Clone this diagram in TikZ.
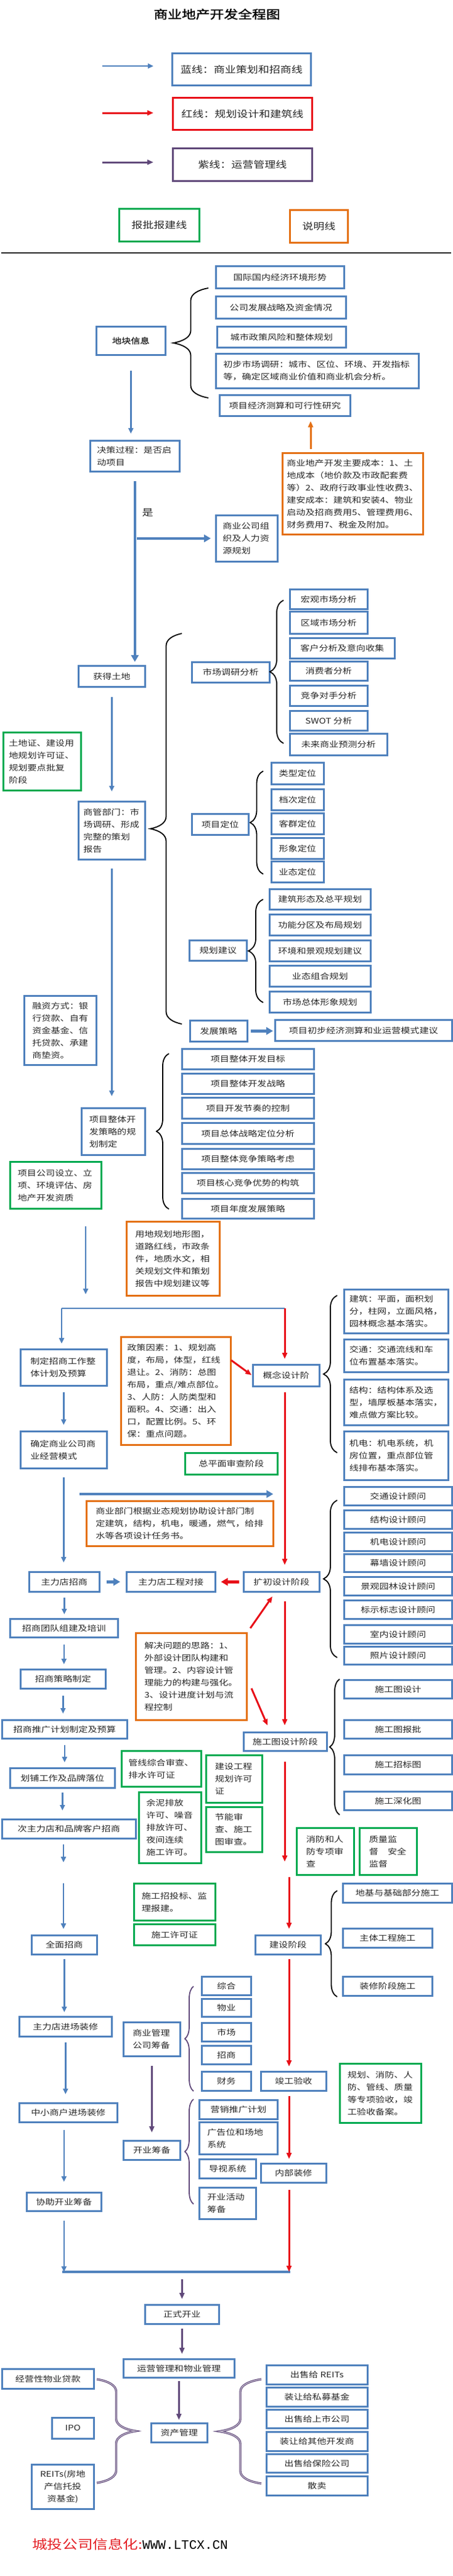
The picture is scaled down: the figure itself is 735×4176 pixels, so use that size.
\documentclass[tikz,border=0pt]{standalone}
\usepackage{fontspec}
\usetikzlibrary{arrows.meta,decorations.pathreplacing}
\newfontfamily\cjk[FakeStretch=1.2]{Noto Sans CJK SC}
\newfontfamily\cjkb[FakeStretch=1.2,FakeBold=1.6]{Noto Sans CJK SC}
\newfontfamily\mono{Liberation Mono}
\newcommand\bxfs{\fontsize{12.6}{20}\selectfont}
\definecolor{bblue}{RGB}{79,129,189}
\definecolor{rred}{RGB}{232,16,24}
\definecolor{ppur}{RGB}{96,73,122}
\definecolor{ggreen}{RGB}{0,170,80}
\definecolor{oorange}{RGB}{228,112,20}
\definecolor{txt}{RGB}{40,40,40}
\definecolor{fred}{RGB}{228,30,36}
\tikzset{bx/.style={draw=#1, line width=2.6pt, anchor=north west, inner sep=0pt, align=center, text=txt, font=\cjk\bxfs}, bx/.default=bblue,
	lg/.style={bx=#1, line width=2.8pt, font=\cjk\fontsize{15}{20}\selectfont}, lg/.default=bblue,
	wh/.style 2 args={minimum width=#1pt, minimum height=#2pt}, tw/.style={align=left, text width=#1pt},
	ba/.style={draw=bblue, line width=2.5pt, -{Triangle[length=9pt,width=8pt]}},
	bt/.style={draw=bblue, line width=4.5pt, -{Triangle[length=11pt,width=12pt]}},
	ra/.style={draw=rred, line width=3pt, -{Triangle[length=10pt,width=8pt]}},
	rt/.style={draw=rred, line width=4.5pt, -{Triangle[length=11pt,width=12pt]}},
	pa/.style={draw=ppur, line width=3pt, -{Triangle[length=10pt,width=8pt]}},
	oa/.style={draw=oorange, line width=3pt, -{Triangle[length=10pt,width=8pt]}},
	bline/.style={draw=bblue, line width=#1}, bline/.default=2.5pt,
	brc/.style={draw=black, line width=1.8pt, decorate, decoration={brace, amplitude=20pt, transform={yscale=#1/20}}},
	pbrc/.style={brc=#1, draw=ppur},
	dbrc/.style={brc=#1, draw=ppur, line width=1.1pt, double=ppur!35, double distance=1.2pt}}

\begin{document}
\begin{tikzpicture}[x=1pt,y=-1pt]
	\path[use as bounding box, fill=white] (0,0) rectangle (735,4176);
	\node[font=\cjkb\fontsize{19}{22}\selectfont] (tt) at (352,23) {商业地产开发全程图};
	\node[lg, wh={225}{52}] (lgb) at (278,85) {蓝线：商业策划和招商线};
	\node[lg=rred, wh={226}{52}] (lgr) at (279,157) {红线：规划设计和建筑线};
	\node[lg=ppur, wh={226}{53}] (lgp) at (279,239) {紫线：运营管理线};
	\node[lg=ggreen, wh={130}{53}] (lgg) at (192,337) {报批报建线};
	\node[lg=oorange, wh={94}{53}] (lgo) at (469,339) {说明线};
	\draw[line width=2.5pt, black!85] (2,410) -- (732,410);

	\node[bx, wh={112}{46}, font=\cjkb\bxfs] (dk) at (155,528) {地块信息};
	\node[bx, wh={208}{36}] (i1) at (349,430) {国际国内经济环境形势};
	\node[bx, wh={211}{36}] (i2) at (349,479) {公司发展战略及资金情况};
	\node[bx, wh={209}{34}] (i3) at (351,528) {城市政策风险和整体规划};
	\node[bx, wh={329}{56}, tw=305] (i4) at (349,572) {初步市场调研：城市、区位、环境、开发指标\\等，确定区域商业价值和商业机会分析。};
	\node[bx, wh={212}{34}] (i5) at (355,639) {项目经济测算和可行性研究};
	\node[bx, wh={145}{50}, tw=123] (jc) at (145,713) {决策过程：是否启\\动项目};
	\node[bx=oorange, wh={228}{132}, tw=214] (cb) at (457,733) {商业地产开发主要成本：1、土\\地成本（地价款及市政配套费\\等）2、政府行政事业性收费3、\\建安成本：建筑和安装4、物业\\启动及招商费用5、管理费用6、\\财务费用7、税金及附加。};
	\node[bx, wh={100}{75}, tw=78] (hr) at (349,834) {商业公司组\\织及人力资\\源规划};
	\node[bx, wh={108}{34}] (hd) at (126,1078) {获得土地};
	\node[bx, wh={126}{33}] (m0) at (310,1072) {市场调研分析};
	\node[bx, wh={126}{32}] (m1) at (469,954) {宏观市场分析};
	\node[bx, wh={126}{36}] (m2) at (469,990) {区域市场分析};
	\node[bx, wh={170}{33}] (m3) at (469,1033) {客户分析及意向收集};
	\node[bx, wh={126}{31}] (m4) at (469,1071) {消费者分析};
	\node[bx, wh={126}{33}] (m5) at (469,1110) {竞争对手分析};
	\node[bx, wh={126}{32}] (m6) at (469,1151) {SWOT 分析};
	\node[bx, wh={158}{35}] (m7) at (469,1188) {未来商业预测分析};

	\node[bx=ggreen, wh={126}{94}, tw=108] (gz) at (4,1186) {土地证、建设用\\地规划许可证、\\规划要点批复\\阶段};
	\node[bx, wh={108}{94}, tw=92] (sg) at (126,1298) {商管部门：市\\场调研、形成\\完整的策划\\报告};
	\node[bx, wh={92}{34}] (p0) at (310,1318) {项目定位};
	\node[bx, wh={85}{35}] (p1) at (439,1235) {类型定位};
	\node[bx, wh={85}{34}] (p2) at (439,1278) {档次定位};
	\node[bx, wh={85}{34}] (p3) at (439,1317) {客群定位};
	\node[bx, wh={85}{34}] (p4) at (439,1357) {形象定位};
	\node[bx, wh={85}{34}] (p5) at (439,1395) {业态定位};
	\node[bx, wh={93}{33}] (g0) at (306,1523) {规划建议};
	\node[bx, wh={164}{33}] (g1) at (436,1440) {建筑形态及总平规划};
	\node[bx, wh={164}{34}] (g2) at (436,1481) {功能分区及布局规划};
	\node[bx, wh={164}{34}] (g3) at (436,1523) {环境和景观规划建议};
	\node[bx, wh={164}{34}] (g4) at (436,1564) {业态组合规划};
	\node[bx, wh={164}{34}] (g5) at (436,1606) {市场总体形象规划};
	\node[bx, wh={93}{34}] (fz) at (307,1653) {发展策略};
	\node[bx, wh={287}{34}] (fc) at (445,1652) {项目初步经济测算和业运营模式建议};
	\node[bx, wh={117}{112}, tw=91] (rz) at (38,1613) {融资方式：银\\行贷款、自有\\资金基金、信\\托贷款、承建\\商垫资。};
	\node[bx, wh={103}{76}, tw=78] (kf) at (131,1795) {项目整体开\\发策略的规\\划制定};
	\node[bx, wh={214}{33}] (k1) at (294,1699) {项目整体开发目标};
	\node[bx, wh={214}{33}] (k2) at (294,1739) {项目整体开发战略};
	\node[bx, wh={214}{34}] (k3) at (294,1778) {项目开发节奏的控制};
	\node[bx, wh={214}{34}] (k4) at (294,1819) {项目总体战略定位分析};
	\node[bx, wh={214}{33}] (k5) at (294,1861) {项目整体竞争策略考虑};
	\node[bx, wh={214}{33}] (k6) at (294,1900) {项目核心竞争优势的构筑};
	\node[bx, wh={214}{32}] (k7) at (294,1942) {项目年度发展策略};

	\node[bx=ggreen, wh={148}{76}, tw=123] (xm) at (15,1882) {项目公司设立、立\\项、环境评估、房\\地产开发资质};
	\node[bx=oorange, wh={151}{120}, tw=123] (yd) at (204,1979) {用地规划地形图，\\道路红线，市政条\\件，地质水文，相\\关规划文件和策划\\报告中规划建议等};
	\node[bx, wh={169}{71}, tw=152] (a1) at (557,2089) {建筑：平面，面积划\\分，柱网，立面风格，\\园林概念基本落实。};
	\node[bx, wh={169}{53}, tw=152] (a2) at (557,2170) {交通：交通流线和车\\位布置基本落实。};
	\node[bx, wh={169}{74}, tw=152] (a3) at (557,2235) {结构：结构体系及选\\型，墙厚板基本落实，\\难点做方案比较。};
	\node[bx, wh={169}{79}, tw=152] (a4) at (557,2319) {机电：机电系统，机\\房位置，重点部位管\\线排布基本落实。};
	\node[bx, wh={140}{59}, tw=108] (zd) at (32,2186) {制定招商工作整\\体计划及预算};
	\node[bx, wh={140}{60}, tw=108] (qd) at (32,2319) {确定商业公司商\\业经营模式};
	\node[bx=oorange, wh={178}{175}, tw=158] (zc) at (195,2166) {政策因素：1、规划高\\度，布局，体型，红线\\退让。2、消防：总图\\布局，重点/难点部位。\\3、人防：人防类型和\\面积。4、交通：出入\\口，配置比例。5、环\\保：重点问题。};
	\node[bx, wh={108}{35}] (gn) at (409,2211) {概念设计阶};
	\node[bx=ggreen, wh={150}{35}] (zp) at (299,2354) {总平面审查阶段};
	\node[bx=oorange, wh={303}{73}, tw=273] (sy) at (139,2432) {商业部门根据业态规划协助设计部门制\\定建筑，结构，机电，暖通，燃气，给排\\水等各项设计任务书。};
	\node[bx, wh={175}{30}] (s1) at (557,2409) {交通设计顾问};
	\node[bx, wh={175}{30}] (s2) at (557,2447) {结构设计顾问};
	\node[bx, wh={175}{30}] (s3) at (557,2483) {机电设计顾问};
	\node[bx, wh={175}{29}] (s4) at (557,2518) {幕墙设计顾问};
	\node[bx, wh={175}{30}] (s5) at (557,2555) {景观园林设计顾问};
	\node[bx, wh={175}{30}] (s6) at (557,2593) {标示标志设计顾问};
	\node[bx, wh={175}{30}] (s7) at (557,2633) {室内设计顾问};
	\node[bx, wh={175}{29}] (s8) at (557,2668) {照片设计顾问};

	\node[bx, wh={114}{32}] (zl) at (46,2547) {主力店招商};
	\node[bx, wh={144}{32}] (gc) at (204,2547) {主力店工程对接};
	\node[bx, wh={123}{32}] (kc) at (394,2547) {扩初设计阶段};
	\node[bx, wh={175}{30}] (zt) at (15,2623) {招商团队组建及培训};
	\node[bx, wh={138}{31}] (zcl) at (32,2705) {招商策略制定};
	\node[bx, wh={203}{30}] (zy) at (2,2787) {招商推广计划制定及预算};
	\node[bx, wh={170}{32}] (hp) at (15,2865) {划铺工作及品牌落位};
	\node[bx=oorange, wh={180}{141}, tw=152] (jj) at (219,2646) {解决问题的思路：1、\\外部设计团队构建和\\管理。2、内容设计管\\理能力的构建与强化。\\3、设计进度计划与流\\程控制};
	\node[bx, wh={135}{30}] (sd) at (394,2807) {施工图设计阶段};
	\node[bx, wh={175}{30}] (t1) at (557,2722) {施工图设计};
	\node[bx, wh={175}{30}] (t2) at (557,2787) {施工图报批};
	\node[bx, wh={175}{31}] (t3) at (557,2844) {施工招标图};
	\node[bx, wh={175}{30}] (t4) at (557,2903) {施工深化图};
	\node[bx=ggreen, wh={129}{58}, tw=107] (gx) at (196,2837) {管线综合审查、\\排水许可证};
	\node[bx=ggreen, wh={91}{77}, tw=62] (jg) at (333,2844) {建设工程\\规划许可\\证};

	\node[bx, wh={217}{31}] (cz) at (2,2948) {次主力店和品牌客户招商};
	\node[bx, wh={106}{31}] (qm) at (50,3136) {全面招商};
	\node[bx=ggreen, wh={101}{115}, tw=77] (yn) at (224,2904) {余泥排放\\许可、噪音\\排放许可、\\夜间连续\\施工许可。};
	\node[bx=ggreen, wh={91}{73}, tw=62] (jn) at (333,2928) {节能审\\查、施工\\图审查。};
	\node[bx=ggreen, wh={93}{76}, tw=62] (xf) at (480,2962) {消防和人\\防专项审\\查};
	\node[bx=ggreen, wh={93}{76}, tw=62] (zj) at (582,2962) {质量监\\督　安全\\监督};
	\node[bx=ggreen, wh={132}{60}, tw=107] (ts) at (216,3052) {施工招投标、监\\理报建。};
	\node[bx=ggreen, wh={132}{34}] (xk) at (216,3118) {施工许可证};
	\node[bx, wh={106}{31}] (js) at (413,3136) {建设阶段};
	\node[bx, wh={177}{31}] (c1) at (555,3052) {地基与基础部分施工};
	\node[bx, wh={145}{31}] (c2) at (555,3125) {主体工程施工};
	\node[bx, wh={145}{31}] (c3) at (555,3203) {装修阶段施工};
	\node[bx, wh={80}{30}] (e1) at (326,3203) {综合};
	\node[bx, wh={80}{29}] (e2) at (326,3239) {物业};
	\node[bx, wh={80}{30}] (e3) at (326,3278) {市场};
	\node[bx, wh={80}{30}] (e4) at (326,3315) {招商};
	\node[bx, wh={80}{31}] (e5) at (326,3357) {财务};

	\node[bx, wh={150}{32}] (zx) at (30,3268) {主力店进场装修};
	\node[bx, wh={159}{31}] (zs) at (30,3408) {中小商户进场装修};
	\node[bx, wh={121}{30}] (xz) at (42,3553) {协助开业筹备};
	\node[bx, wh={92}{55}, tw=62] (sgl) at (199,3277) {商业管理\\公司筹备};
	\node[bx, wh={92}{31}] (kyc) at (199,3469) {开业筹备};
	\node[bx, wh={127}{31}] (f1) at (322,3403) {营销推广计划};
	\node[bx, wh={127}{52}, tw=101] (f2) at (322,3439) {广告位和场地\\系统};
	\node[bx, wh={92}{31}] (f3) at (322,3499) {导视系统};
	\node[bx, wh={92}{51}, tw=66] (f4) at (322,3545) {开业活动\\筹备};
	\node[bx, wh={106}{31}] (jy) at (422,3357) {竣工验收};
	\node[bx, wh={106}{31}] (nz) at (422,3506) {内部装修};
	\node[bx=ggreen, wh={132}{96}, tw=107] (gy) at (550,3344) {规划、消防、人\\防、管线、质量\\等专项验收，竣\\工验收备案。};

	\node[bx, wh={120}{31}] (zk) at (234,3735) {正式开业};
	\node[bx, wh={180}{30}] (yy) at (199,3823) {运营管理和物业管理};
	\node[bx, wh={91}{31}] (zg) at (244,3927) {资产管理};
	\node[bx, wh={149}{32}] (jd) at (2,3839) {经营性物业贷款};
	\node[bx, wh={68}{34}] (ipo) at (83,3918) {IPO};
	\node[bx, wh={101}{72}] (re) at (50,3994) {REITs(房地\\产信托投\\资基金)};
	\node[bx, wh={164}{31}] (o1) at (431,3833) {出售给 REITs};
	\node[bx, wh={164}{31}] (o2) at (431,3869) {装让给私募基金};
	\node[bx, wh={164}{30}] (o3) at (431,3905) {出售给上市公司};
	\node[bx, wh={164}{31}] (o4) at (431,3941) {装让给其他开发商};
	\node[bx, wh={164}{30}] (o5) at (431,3977) {出售给保险公司};
	\node[bx, wh={164}{31}] (o6) at (431,4013) {散卖};
	\node[anchor=west, inner sep=0pt, font=\cjk\fontsize{20.5}{24}\selectfont, text=fred] (ft) at (52,4125) {城投公司信息化:{\mono\fontsize{21}{24}\selectfont\color{black}WWW.LTCX.CN}};

	\draw[brc=57] (338,645) -- (338,467);
	\draw[brc=22] (460,1205) -- (460,973);
	\draw[brc=51] (295,1660) -- (295,1027);
	\draw[brc=21] (427,1417) -- (427,1250);
	\draw[brc=24] (427,1625) -- (427,1458);
	\draw[brc=20] (274,1960) -- (274,1708);
	\draw[brc=22] (547,2355) -- (547,2100);
	\draw[brc=22] (547,2687) -- (547,2432);
	\draw[brc=16] (551,2942) -- (551,2722);
	\draw[brc=19] (547,3237) -- (547,3065);
	\draw[pbrc=14] (314,3390) -- (314,3220);
	\draw[pbrc=14] (314,3573) -- (314,3403);
	\draw[dbrc=63] (157,3857) -- (157,4025);
	\draw[dbrc=68] (424,4026) -- (424,3857);

	\coordinate (lb0) at (166,107);
	\coordinate (lr0) at (166,183);
	\coordinate (lp0) at (166,263);
	\coordinate (ocol) at (504,0);
	\coordinate (rcol) at (462,0);
	\coordinate (rcol2) at (469,0);
	\coordinate (dn) at (139,1988);
	\coordinate (ul) at (100,2121);
	\coordinate (ur) at (462,2121);
	\coordinate (zsh) at (129,2422);
	\coordinate (gp1) at (103,3019);
	\coordinate (gp2) at (103,3053);
	\coordinate (rr0) at (375,2205);
	\coordinate (rr2) at (442,2588);
	\coordinate (rr3) at (408,2737);
	\coordinate (rr4) at (434,2797);
	\coordinate (rr5) at (462,3018);
	\coordinate (rr6) at (469,3043);
	\coordinate (bl) at (101,3683);
	\coordinate (br) at (471,3683);

	\path (lb0) edge[ba, shorten >=29pt] (lb0 -| lgb.west)
		(lr0) edge[ra, shorten >=30pt] (lr0 -| lgr.west)
		(lp0) edge[pa, shorten >=30pt] (lp0 -| lgp.west)
		(ocol |- cb.north) edge[oa, shorten <=5pt, shorten >=7pt] (ocol |- i5.south)
		(dk.south) edge[ba, shorten <=24pt, shorten >=10pt] (dk.south |- jc.north)
		(jc.south) edge[bt, shorten <=14pt, shorten >=5pt] (jc.south |- hd.north)
		(jc.south |- hr.west) edge[bt, shorten <=3pt, shorten >=7pt] node[pos=0.16, above=30pt, font=\cjk\fontsize{15}{18}\selectfont, text=txt] {是} (hr.west)
		(hd.south) edge[ba, shorten <=15pt, shorten >=15pt] (hd.south |- sg.north)
		(fz.east) edge[bt, shorten <=4pt, shorten >=2pt] (fz.east -| fc.west)
		(sg.south) edge[ba, shorten <=13pt, shorten >=18pt] (sg.south |- kf.north)
		(dn) edge[ba, shorten >=23pt] (dn |- ul)
		(ul) edge[ba, shorten >=8pt] (ul |- zd.north)
		(zd.south) edge[ba, shorten <=9pt, shorten >=9pt] (zd.south |- qd.north)
		(qd.south) edge[ba, shorten <=13pt, shorten >=14pt] (qd.south |- zl.north)
		(zsh) edge[bt, shorten >=21pt] (zsh -| gn.south)
		(zl.east) edge[bt, shorten <=10pt, shorten >=9pt] (zl.east -| gc.west)
		(zl.south) edge[ba, shorten <=8pt, shorten >=6pt] (zl.south |- zt.north)
		(zt.south) edge[ba, shorten <=10pt, shorten >=7pt] (zt.south |- zcl.north)
		(zcl.south) edge[ba, shorten <=10pt, shorten >=9pt] (zcl.south |- zy.north)
		(zy.south) edge[ba, shorten <=9pt, shorten >=8pt] (zy.south |- hp.north)
		(hp.south) edge[ba, shorten <=6pt, shorten >=13pt] (hp.south |- cz.north)
		(gp1 |- cz.south) edge[ba, shorten <=8pt] (gp1)
		(gp2) edge[ba, shorten >=9pt] (gp2 |- qm.north)
		(qm.south) edge[ba, shorten <=6pt, shorten >=6pt] (qm.south |- zx.north)
		(zx.south) edge[ba, shorten <=8pt, shorten >=13pt] (zx.south |- zs.north)
		(xz.north |- zs.south) edge[ba, shorten <=11pt, shorten >=16pt] (xz.north)
		(xz.south) edge[ba, shorten <=14pt] (xz.south |- bl);
	\draw[bline] (ul) -- (ur);
	\draw[bline=4pt] (bl) -- (br);
	\path (ur) edge[ra, shorten >=8pt] (ur |- gn.north)
		(rr0) edge[ra, shorten >=1pt] (gn.west)
		(rcol |- gn.south) edge[ra, shorten <=8pt, shorten >=10pt] (rcol |- kc.north)
		(kc.west) edge[rt, shorten <=6pt, shorten >=8pt] (kc.west -| gc.east)
		(jj.north east) edge[ra, shorten <=8pt] (rr2)
		(rcol |- kc.south) edge[ra, shorten <=14pt, shorten >=10pt] (rcol |- sd.north)
		(rr3) edge[ra] (rr4)
		(rcol |- sd.south) edge[ra, shorten <=16pt] (rr5)
		(rr6) edge[ra, shorten >=9pt] (rr6 |- js.north)
		(rcol2 |- js.south) edge[ra, shorten <=6pt, shorten >=7pt] (rcol2 |- jy.north)
		(rcol2 |- jy.south) edge[ra, shorten <=7pt, shorten >=6pt] (rcol2 |- nz.north)
		(rcol2 |- nz.south) edge[ra, shorten <=10pt] (rcol2 |- br);
	\path (sgl.south) edge[pa, shorten <=14pt, shorten >=12pt] (sgl.south |- kyc.north)
		(zk.north |- bl) edge[pa, shorten <=12pt, shorten >=8pt] (zk.north)
		(zk.south) edge[pa, shorten <=6pt, shorten >=7pt] (zk.south |- yy.north)
		(yy.south) edge[pa, shorten <=4pt, shorten >=4pt] (yy.south |- zg.north);
\end{tikzpicture}
\end{document}
